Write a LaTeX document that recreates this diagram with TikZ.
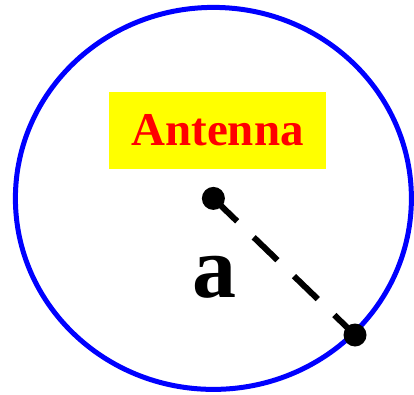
\documentclass[tikz,border=0pt]{standalone}
\usepackage{fontspec}
\setmainfont{Liberation Serif}
\usepackage{tikz}
\usetikzlibrary{positioning, calc}
\definecolor{AntBlue}{RGB}{0, 0, 255}
\definecolor{AntRed}{RGB}{255, 0, 0}
\definecolor{AntYellow}{RGB}{255, 255, 0}

\begin{document}
\begin{tikzpicture}[x=1pt, y=-1pt]
    \useasboundingbox (0,0) rectangle (414,395);
    \coordinate (centre) at (213.4,198.4);
    \coordinate (rim) at (355,335);
    \draw[AntBlue, line width=5pt] (centre) ellipse [x radius=198pt, y radius=191pt];
    \node[fill=AntYellow, minimum width=217pt, minimum height=77pt, inner sep=0pt, text=AntRed, font=\fontsize{47}{50}\selectfont\bfseries] (label) at (217.5,130.5) {Antenna};
    \draw[line width=6pt, dash pattern=on 33pt off 23pt] (centre) -- (rim);
    \fill (centre) circle (11.5pt);
    \fill (rim) circle (11.5pt);
    \node[inner sep=0pt, font=\fontsize{88}{90}\selectfont\bfseries] (radius) at (214.5,277.5) {a};
\end{tikzpicture}
\end{document}
